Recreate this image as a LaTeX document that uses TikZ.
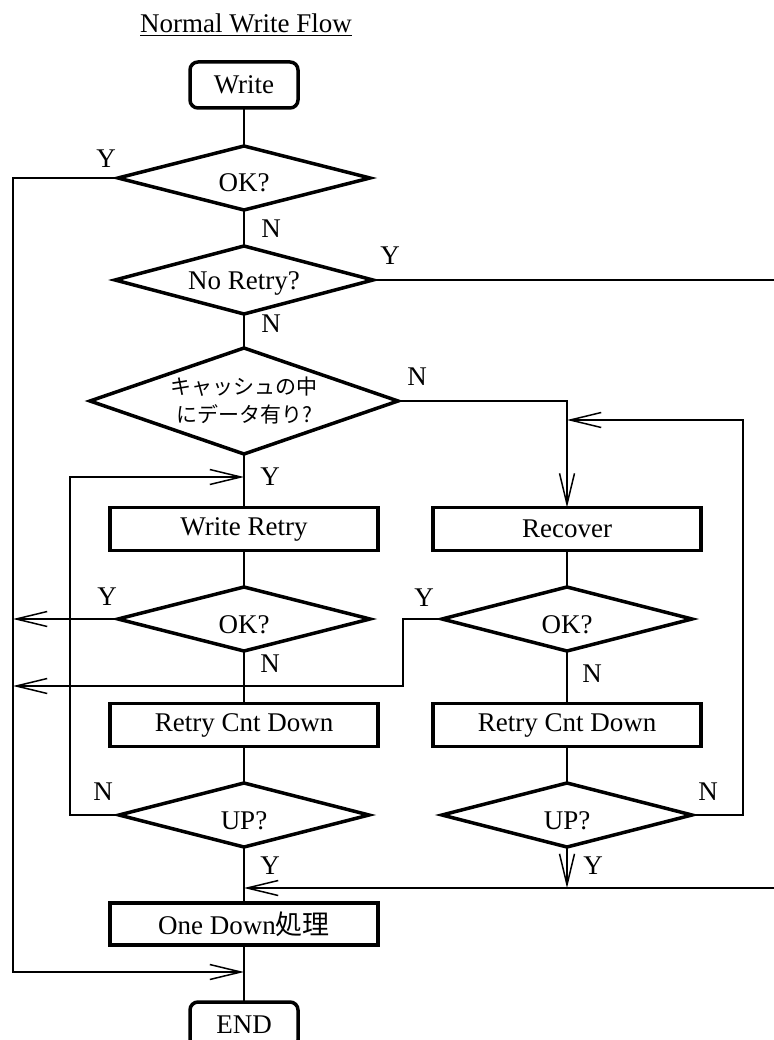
\documentclass[tikz,border=0pt]{standalone}
\usepackage{fontspec}
\setmainfont{Liberation Serif}
\newfontfamily\cjk{Noto Sans CJK JP}
\usetikzlibrary{shapes.geometric,arrows.meta}

\begin{document}
\begin{tikzpicture}[x=1pt,y=-1pt,
	font=\fontsize{27}{32}\selectfont,
	flow/.style={line width=1.5pt},
	arr/.style={line width=1.5pt,-{Straight Barb[length=31pt,width=15pt]}},
	proc/.style={draw,line width=3.5pt,minimum width=268pt,minimum height=43pt,inner sep=0pt,outer sep=0pt},
	term/.style={draw,line width=3.5pt,rounded corners=8pt,minimum width=108pt,minimum height=46pt,inner sep=0pt,outer sep=0pt},
	decision/.style={draw,diamond,aspect=4,line width=3.5pt,minimum width=252pt,minimum height=64pt,
		text height=28pt,text depth=0pt,inner sep=0pt,outer sep=0pt},
	lbl/.style={inner sep=0pt}]
	% We will draw the write flow here
	\useasboundingbox (0,0) rectangle (773,1040);
	
	\node[lbl,anchor=base] (title) at (246,33) {\underline{Normal Write Flow}};
	
	\node[term] (write) at (244,85) {Write};
	\node[decision] (ok1) at (244,178) {OK?};
	\node[decision,minimum width=258pt,minimum height=68pt,text height=20pt] (noretry) at (244,280) {No Retry?};
	\node[draw,diamond,aspect=3,line width=3.5pt,minimum width=308pt,minimum height=106pt,inner sep=0pt,outer sep=0pt,
		font=\cjk\fontsize{21}{28}\selectfont,align=center] (cache) at (244,401) {キャッシュの中\\にデータ有り?};
	\node[proc] (wretry) at (244,529) {Write Retry};
	\node[proc] (recover) at (567,529) {Recover};
	\node[decision] (ok2) at (244,619) {OK?};
	\node[decision,minimum width=250pt] (ok3) at (567,619) {OK?};
	\node[proc] (cntl) at (244,725) {Retry Cnt Down};
	\node[proc] (cntr) at (567,725) {Retry Cnt Down};
	\node[decision,minimum width=250pt] (upl) at (244,815) {UP?};
	\node[decision,minimum width=250pt] (upr) at (567,815) {UP?};
	\node[proc,minimum height=42pt] (onedown) at (244,924) {One Down{\cjk 処理}};
	\node[term] (end) at (244,1025) {END};
	
	\coordinate (leftbus) at (13,972);
	\coordinate (jog) at (403,686);
	\coordinate (loopl) at (70,477);
	\coordinate (loopr) at (743,420);
	\coordinate (exit1) at (790,280);
	\coordinate (exit2) at (790,888);
	
	% main line
	\draw[flow] (write.south) -- (ok1.north);
	\draw[flow] (ok1.south) -- (noretry.north);
	\draw[flow] (noretry.south) -- (cache.north);
	\draw[flow] (cache.south) -- (wretry.north);
	\draw[flow] (wretry.south) -- (ok2.north);
	\draw[flow] (ok2.south) -- (cntl.north);
	\draw[flow] (cntl.south) -- (upl.north);
	\draw[flow] (upl.south) -- (onedown.north);
	\draw[flow] (onedown.south) -- (end.north);
	
	% recover side
	\draw[flow] (recover.south) -- (ok3.north);
	\draw[flow] (ok3.south) -- (cntr.north);
	\draw[flow] (cntr.south) -- (upr.north);
	
	\draw[arr] (ok1.west) -| (leftbus) -- (leftbus -| end.north);
	\draw[arr] (ok2.west) -- (ok2.west -| leftbus);
	\draw[arr] (ok3.west) -| (jog) -- (jog -| leftbus);
	\draw[arr] (upl.west) -| (loopl) -- (loopl -| wretry.north);
	\draw[arr] (cache.east) -| (recover.north);
	\draw[arr] (upr.east) -| (loopr) -- (loopr -| recover.north);
	\draw[flow] (noretry.east) -- (exit1);
	\draw[arr] (exit2) -- (exit2 -| onedown.north);
	\draw[arr] (upr.south) -- (upr.south |- exit2);
	
	\node[lbl] (y1) at (106,159) {Y};
	\node[lbl] (n1) at (271,229) {N};
	\node[lbl] (y2) at (390,256) {Y};
	\node[lbl] (n2) at (271,324) {N};
	\node[lbl] (n3) at (417,377) {N};
	\node[lbl] (y3) at (270,477) {Y};
	\node[lbl] (y4) at (107,597) {Y};
	\node[lbl] (n4) at (270,664) {N};
	\node[lbl] (y5) at (424,598) {Y};
	\node[lbl] (n5) at (592,674) {N};
	\node[lbl] (n6) at (103,792) {N};
	\node[lbl] (n7) at (708,792) {N};
	\node[lbl] (y6) at (270,866) {Y};
	\node[lbl] (y7) at (593,866) {Y};
	
\end{tikzpicture}
\end{document}
